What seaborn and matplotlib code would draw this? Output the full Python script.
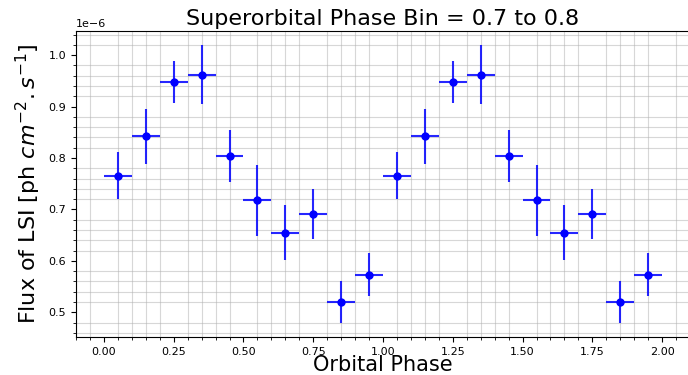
import matplotlib
matplotlib.use("Agg")
import matplotlib.pyplot as plt
from matplotlib.ticker import AutoMinorLocator
import numpy as np
import pandas as pd
import seaborn as sns

# Data (flux in units of ph cm^-2 s^-1)
phase = [0.05, 0.15, 0.25, 0.35, 0.45, 0.55, 0.65, 0.75, 0.85, 0.95,
         1.05, 1.15, 1.25, 1.35, 1.45, 1.55, 1.65, 1.75, 1.85, 1.95]
flux_1 = [0.766, 0.842, 0.948, 0.962, 0.804, 0.718, 0.655, 0.691, 0.520, 0.573]
err_1 = [0.045, 0.054, 0.041, 0.057, 0.051, 0.069, 0.053, 0.048, 0.041, 0.042]
flux = [v * 1e-6 for v in flux_1 + flux_1]
flux_err = [v * 1e-6 for v in err_1 + err_1]
phase_err = [0.05] * len(phase)

title = "Superorbital Phase Bin = 0.7 to 0.8"
xlabel = "Orbital Phase"
ylabel = r"Flux of LSI [ph $cm^{-2}.s^{-1}$]"

plt.rcParams['font.family'] = ['DejaVu Sans']

fig = plt.figure(figsize=(6.88, 3.75), dpi=100)
ax = fig.add_axes([76/688, (375-337)/375, (690-76)/688, (337-31)/375])

df = pd.DataFrame({"phase": phase, "flux": flux})
ax.errorbar(phase, flux, xerr=phase_err, yerr=flux_err, fmt='none',
            ecolor='blue', elinewidth=1.5, alpha=0.85, zorder=2)
sns.scatterplot(data=df, x="phase", y="flux", ax=ax, color='blue',
                s=36, edgecolor='blue', linewidth=0, zorder=3)

ax.set_xticks([0, 0.25, 0.5, 0.75, 1.0, 1.25, 1.5, 1.75, 2.0])
ax.xaxis.set_minor_locator(AutoMinorLocator(5))
ax.yaxis.set_minor_locator(AutoMinorLocator(5))
ax.set_xlim(-0.1, 2.1)
ax.set_ylim(0.452e-6, 1.047e-6)
ax.set_axisbelow(True)
ax.grid(which='minor', color='#b0b0b0', linewidth=0.8, alpha=0.5)
ax.grid(which='major', visible=False)
ax.tick_params(axis='both', which='major', labelsize=8, length=3.5)
ax.tick_params(axis='both', which='minor', length=2)
ax.yaxis.get_offset_text().set_fontsize(8)

ax.set_title(title, fontsize=16, pad=4)
ax.set_xlabel(xlabel, fontsize=15, labelpad=-1)
ax.set_ylabel(ylabel, fontsize=16)

fig.savefig("out.png", dpi=100)
